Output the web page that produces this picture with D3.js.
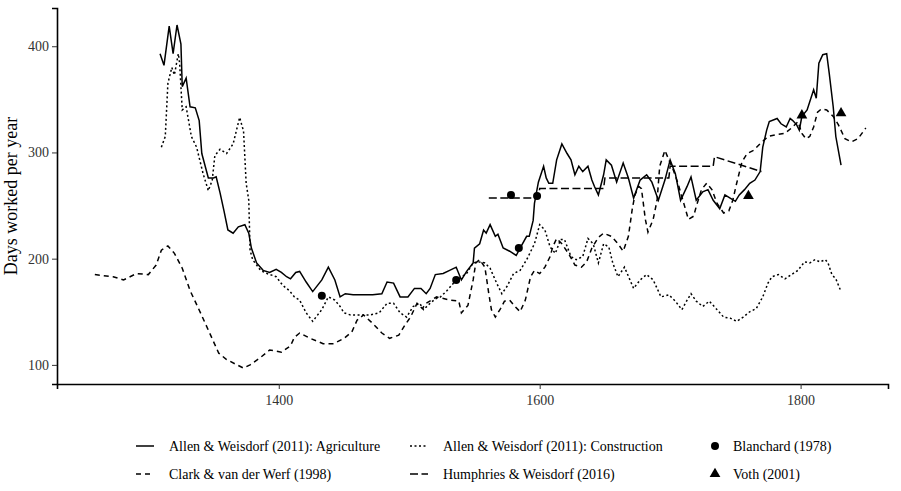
<!DOCTYPE html>
<html>
<head>
<meta charset="utf-8">
<script src="https://cdn.jsdelivr.net/npm/d3@7"></script>
<style>
  body { margin: 0; background: #fff; }
  svg text { font-family: "Liberation Serif", "Times New Roman", serif; }
</style>
</head>
<body>
<div class="chart"></div>
<script>
var width = 901;
var height = 491;
var margin = {top: 8, right: 13, bottom: 107, left: 57};

// Allen & Weisdorf (2011): Agriculture
var agriYears = [1309,1312,1316,1319,1322,1325,1326,1329,1332,1336,1339,1341,1346,1350,1352,1355,1358,1361,1365,1369,1374,1377,1379,1383,1388,1393,1398,1402,1406,1409,1413,1416,1421,1426,1433,1438,1443,1447,1451,1457,1465,1472,1479,1483,1488,1493,1499,1504,1509,1513,1516,1520,1526,1531,1536,1540,1544,1549,1550,1554,1557,1559,1562,1566,1568,1572,1577,1582,1585,1590,1592,1595,1596,1599,1603,1605,1607,1610,1613,1617,1621,1624,1627,1630,1633,1637,1640,1642,1645,1649,1651,1655,1659,1664,1668,1672,1677,1682,1686,1691,1696,1700,1704,1708,1713,1716,1720,1725,1729,1733,1738,1742,1746,1750,1753,1757,1761,1765,1769,1771,1774,1776,1782,1785,1789,1792,1794,1797,1799,1801,1805,1810,1812,1814,1817,1820,1822,1825,1827,1831];
var agriDays  = [393,382,419,393,420,402,362,370,343,342,330,299,276,276,277,262,245,227,224,230,232,224,210,196,189,187,190,187,183,181,187,188,178,169,180,192,180,164,167,166,166,166,167,178,177,164,164,172,172,167,172,185,186,189,192,180,188,196,210,214,227,224,232,221,223,210,207,203,210,221,221,236,252,272,287,276,271,271,293,308,299,293,279,287,282,287,274,268,260,279,293,288,272,290,276,257,274,279,272,255,274,293,280,255,268,277,255,263,265,255,247,260,257,254,260,265,271,274,282,305,321,329,332,327,324,332,330,326,321,334,340,359,351,384,392,393,374,343,315,288];

// Allen & Weisdorf (2011): Construction
var consYears = [1310,1313,1315,1318,1320,1323,1324,1326,1329,1333,1337,1342,1346,1349,1351,1355,1360,1365,1370,1373,1375,1377,1378,1380,1386,1391,1398,1403,1408,1412,1416,1421,1426,1433,1438,1443,1447,1450,1455,1462,1470,1477,1483,1488,1493,1498,1503,1508,1511,1516,1520,1524,1529,1534,1539,1544,1549,1553,1558,1562,1567,1571,1575,1580,1585,1590,1596,1600,1604,1608,1612,1616,1619,1624,1628,1633,1637,1641,1645,1649,1653,1656,1660,1665,1672,1677,1682,1687,1693,1699,1704,1709,1713,1716,1720,1725,1730,1736,1741,1746,1751,1756,1761,1766,1771,1775,1778,1783,1788,1793,1798,1803,1807,1811,1815,1819,1821,1824,1827,1829,1831];
var consDays  = [305,315,365,380,373,393,384,340,343,315,305,280,264,274,297,303,299,308,333,320,271,255,208,199,189,186,183,175,170,164,161,149,141,152,164,161,155,149,147,147,147,149,158,158,149,145,155,158,152,158,162,164,170,177,182,186,196,197,196,191,177,167,174,186,189,199,214,232,227,211,205,218,218,202,199,202,219,214,196,214,211,196,183,192,172,180,185,180,164,166,160,152,161,167,160,155,160,152,145,144,141,145,150,153,164,177,183,185,181,185,189,197,196,199,197,199,196,185,181,175,169];

// Clark & van der Werf (1998)
var clarkYears = [1259,1273,1281,1291,1300,1306,1310,1315,1320,1326,1332,1340,1347,1354,1360,1368,1373,1378,1386,1393,1402,1409,1412,1416,1424,1434,1442,1450,1456,1460,1465,1472,1479,1485,1492,1497,1501,1506,1510,1513,1521,1531,1538,1540,1545,1549,1551,1554,1558,1561,1563,1566,1570,1573,1577,1581,1585,1589,1593,1596,1600,1604,1608,1610,1613,1617,1622,1627,1632,1636,1640,1645,1649,1655,1660,1664,1668,1671,1673,1676,1678,1681,1683,1687,1690,1692,1696,1699,1702,1706,1710,1714,1718,1720,1724,1728,1732,1736,1741,1745,1748,1751,1755,1759,1764,1768,1775,1782,1788,1793,1798,1801,1804,1807,1810,1813,1816,1820,1825,1829,1834,1839,1844,1850];
var clarkDays  = [185,183,180,186,185,194,208,212,205,191,170,149,130,111,105,100,97,100,107,114,112,118,126,130,125,120,120,125,131,142,147,139,130,125,128,138,145,158,153,158,164,161,160,149,156,180,196,199,192,167,152,145,153,160,161,155,150,161,183,189,186,192,202,211,219,214,205,194,192,197,210,220,224,221,214,207,221,247,260,268,266,237,225,237,255,287,302,293,285,271,254,237,240,249,265,271,265,252,243,245,255,271,291,299,302,307,315,317,318,323,329,318,313,315,324,338,341,340,334,326,313,310,313,323];

// Humphries & Weisdorf (2016)
var humphYears = [1561,1599,1600,1649,1650,1699,1700,1733,1734,1770];
var humphDays  = [257,257,266,266,276,276,287,287,296,282];

// Blanchard (1978) and Voth (2001) point estimates
var blanchardYears = [1433,1536,1578,1584,1598];
var blanchardDays  = [165,180,260,210,259];
var vothYears = [1760,1801,1831];
var vothDays  = [259,335,337];

var xTicks = [1400,1600,1800];
var yTicks = [100,200,300,400];

var svg = d3.select(".chart").append("svg")
    .attr("width", width)
    .attr("height", height);

var x = d3.scaleLinear().domain([1230, 1867]).range([margin.left, width - margin.right]);
var y = d3.scaleLinear().domain([82, 436]).range([height - margin.bottom, margin.top]);

function zip(xs, ys) { return xs.map(function(d, i) { return [d, ys[i]]; }); }

var series = [
  {name: "Allen & Weisdorf (2011): Agriculture", data: zip(agriYears, agriDays), dash: null},
  {name: "Allen & Weisdorf (2011): Construction", data: zip(consYears, consDays), dash: "2,2.5"},
  {name: "Clark & van der Werf (1998)", data: zip(clarkYears, clarkDays), dash: "5,4"},
  {name: "Humphries & Weisdorf (2016)", data: zip(humphYears, humphDays), dash: "8,3.5"}
];

var line = d3.line()
    .x(function(d) { return x(d[0]); })
    .y(function(d) { return y(d[1]); });

svg.append("g").selectAll("path")
  .data(series)
  .enter().append("path")
    .attr("d", function(d) { return line(d.data); })
    .attr("fill", "none")
    .attr("stroke", "#000")
    .attr("stroke-width", 1.5)
    .attr("stroke-dasharray", function(d) { return d.dash; });

// points
svg.append("g").selectAll("circle")
  .data(zip(blanchardYears, blanchardDays))
  .enter().append("circle")
    .attr("cx", function(d) { return x(d[0]); })
    .attr("cy", function(d) { return y(d[1]); })
    .attr("r", 4)
    .attr("fill", "#000");

var tri = d3.symbol().type(d3.symbolTriangle).size(50);
svg.append("g").selectAll("path")
  .data(zip(vothYears, vothDays))
  .enter().append("path")
    .attr("d", tri)
    .attr("transform", function(d) { return "translate(" + x(d[0]) + "," + y(d[1]) + ")"; })
    .attr("fill", "#000");

// axes
var xAxis = svg.append("g")
    .attr("transform", "translate(0," + (height - margin.bottom) + ")")
    .call(d3.axisBottom(x).tickValues(xTicks).tickFormat(d3.format("d")).tickSizeOuter(0).tickSize(5));
var yAxis = svg.append("g")
    .attr("transform", "translate(" + margin.left + ",0)")
    .call(d3.axisLeft(y).tickValues(yTicks).tickSizeOuter(0).tickSize(5));

[xAxis, yAxis].forEach(function(g) {
  g.attr("font-family", null);
  g.select(".domain").attr("stroke", "#000").attr("stroke-width", 1.6);
  g.selectAll(".tick line").attr("stroke", "#333").attr("stroke-width", 1);
  g.selectAll(".tick text").attr("font-size", 14).attr("fill", "#333");
});
xAxis.selectAll(".tick text").attr("dy", "0.95em");
yAxis.selectAll(".tick text").attr("x", -8);

svg.append("text")
    .attr("transform", "translate(17," + ((margin.top + height - margin.bottom) / 2) + ") rotate(-90)")
    .attr("text-anchor", "middle")
    .attr("font-size", 18)
    .text("Days worked per year");

// legend
var legendItems = [
  {label: series[0].name, type: "line", dash: series[0].dash, col: 0, row: 0},
  {label: series[1].name, type: "line", dash: series[1].dash, col: 1, row: 0},
  {label: "Blanchard (1978)", type: "circle", col: 2, row: 0},
  {label: series[2].name, type: "line", dash: series[2].dash, col: 0, row: 1},
  {label: series[3].name, type: "line", dash: series[3].dash, col: 1, row: 1},
  {label: "Voth (2001)", type: "triangle", col: 2, row: 1}
];
var colX = [136, 410, 706];
var rowY = [446, 474];

var legend = svg.append("g").selectAll("g")
  .data(legendItems)
  .enter().append("g")
    .attr("transform", function(d) { return "translate(" + colX[d.col] + "," + rowY[d.row] + ")"; });

legend.filter(function(d) { return d.type === "line"; })
  .append("line")
    .attr("x1", 0).attr("x2", 18)
    .attr("stroke", "#000")
    .attr("stroke-width", 1.5)
    .attr("stroke-dasharray", function(d) { return d.dash; });
legend.filter(function(d) { return d.type === "circle"; })
  .append("circle").attr("cx", 9).attr("r", 4).attr("fill", "#000");
legend.filter(function(d) { return d.type === "triangle"; })
  .append("path").attr("d", tri).attr("transform", "translate(9,0)").attr("fill", "#000");

legend.append("text")
    .attr("x", function(d) { return d.type === "line" ? 33 : 27; })
    .attr("dy", "0.35em")
    .attr("font-size", 14)
    .text(function(d) { return d.label; });
</script>
</body>
</html>
